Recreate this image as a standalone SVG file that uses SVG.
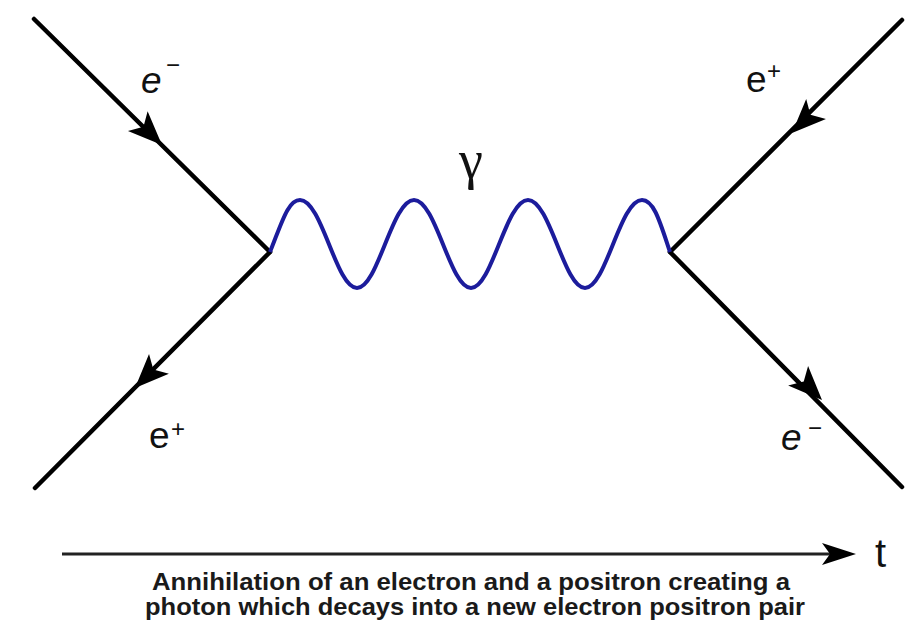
<svg xmlns="http://www.w3.org/2000/svg" width="922" height="625" viewBox="0 0 922 625">
<style>
.line{stroke:#000;stroke-width:4.5;fill:none;stroke-linecap:round}
.lbl{font-family:"Liberation Sans",Arial,sans-serif;font-size:37px;fill:#111}
.sup{font-family:"Liberation Sans",Arial,sans-serif;font-size:24px;fill:#111}
.cap{font-family:"Liberation Sans",Arial,sans-serif;font-size:24px;font-weight:bold;fill:#1a1a1a}
</style>
<defs>
<polygon id="ah" points="0,0 -34,-14 -26,0 -34,14" fill="#000"/>
</defs>
<rect width="922" height="625" fill="#fff"/>
<g id="connectors">
<line class="line" x1="34" y1="19" x2="270" y2="252"/>
<line class="line" x1="270" y1="252" x2="35" y2="488"/>
<line class="line" x1="902" y1="20" x2="670" y2="252"/>
<line class="line" x1="670" y1="252" x2="902" y2="487"/>
<use href="#ah" transform="translate(162,145) rotate(44.6)"/>
<use href="#ah" transform="translate(135,388) rotate(134.8)"/>
<use href="#ah" transform="translate(792,133) rotate(135.1)"/>
<use href="#ah" transform="translate(822,400) rotate(45.4)"/>
<path id="photon" d="M270,252 C282,222 288,200 300,200 C322,200 336,288 357,288 C378,288 392,200 414,200 C436,200 450,288 471,288 C492,288 506,200 528,200 C550,200 564,288 585,288 C606,288 620,200 642,200 C654,200 660,222 670,252" fill="none" stroke="#1c1c9c" stroke-width="4"/>
<line x1="62" y1="554" x2="830" y2="554" stroke="#222" stroke-width="3"/>
<polygon points="856,554 822,543 830,554 822,565" fill="#000"/>
</g>
<g id="n1"><text class="lbl" x="141" y="93" font-style="italic">e</text><text class="sup" x="166" y="73">−</text></g>
<g id="n2"><text class="lbl" x="746" y="92">e</text><text class="sup" x="767" y="79">+</text></g>
<g id="n3"><text class="lbl" x="149" y="448">e</text><text class="sup" x="171" y="437">+</text></g>
<g id="n4"><text class="lbl" x="781" y="450" font-style="italic">e</text><text class="sup" x="808" y="436">−</text></g>
<g id="gamma"><text x="471" y="178" text-anchor="middle" font-family="'Liberation Serif','Times New Roman',serif" font-size="54" fill="#111">γ</text></g>
<g id="t"><text x="875" y="567" font-family="'Liberation Sans',Arial,sans-serif" font-size="40" fill="#111">t</text></g>
<g id="caption">
<text class="cap" x="152" y="590" textLength="638" lengthAdjust="spacingAndGlyphs">Annihilation of an electron and a positron creating a</text>
<text class="cap" x="145" y="615" textLength="660" lengthAdjust="spacingAndGlyphs">photon which decays into a new electron positron pair</text>
</g>
</svg>
